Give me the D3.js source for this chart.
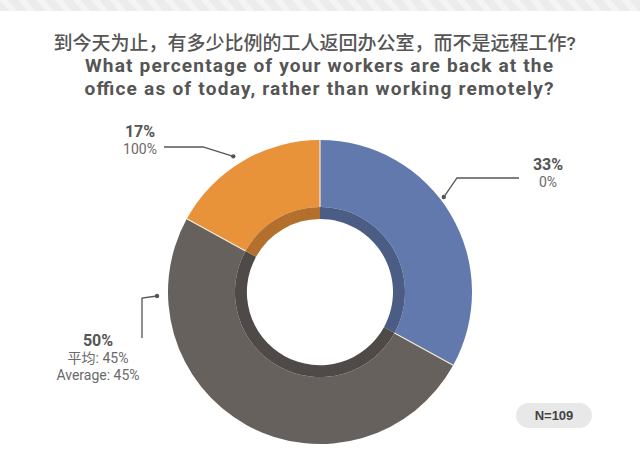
<!DOCTYPE html>
<html>
<head>
<meta charset="utf-8">
<script src="https://cdn.jsdelivr.net/npm/d3@7"></script>
<style>
  body { margin: 0; background: #fff; }
  svg { display: block; font-family: "Noto Sans", "Noto Sans CJK SC", sans-serif; }
</style>
</head>
<body>
<svg id="svg" width="640" height="450"></svg>
<script>
/* global d3 */

// data
const categories = ["0%", "45%", "100%"];
const shares = [33, 50, 17];
const subLabels = [["0%"], ["平均: 45%", "Average: 45%"], ["100%"]];
const colors = ["#6279ad", "#67615e", "#e8923a"];
const titleLines = [
  "到今天为止，有多少比例的工人返回办公室，而不是远程工作?",
  "What percentage of your workers are back at the",
  "office as of today, rather than working remotely?"
];
const sampleSize = "N=109";

const width = 640;
const height = 450;
const cx = 320;
const cy = 292;
const outerR = 152;
const bandR = 85;
const innerR = 73;

const svg = d3.select("#svg");

// striped header band
const defs = svg.append("defs");
const pat = defs
  .append("pattern")
  .attr("id", "stripes")
  .attr("width", 14)
  .attr("height", 14)
  .attr("patternUnits", "userSpaceOnUse")
  .attr("patternTransform", "rotate(-40)");
pat.append("rect").attr("width", 14).attr("height", 14).attr("fill", "#ececec");
pat.append("rect").attr("width", 6).attr("height", 14).attr("fill", "#f4f4f4");

svg.append("rect").attr("width", width).attr("height", 11).attr("fill", "url(#stripes)");

// title
const titleFont = 'Roboto, "Noto Sans CJK SC", sans-serif';
const title = svg
  .append("g")
  .selectAll("text")
  .data(titleLines)
  .join("text")
  .attr("x", (d, i) => (i === 0 ? 314.5 : 319))
  .attr("y", (d, i) => [49.5, 72.3, 95][i])
  .attr("text-anchor", "middle")
  .attr("fill", "#555")
  .attr("font-size", (d, i) => (i === 0 ? 19 : 19.1))
  .attr("font-weight", (d, i) => (i === 0 ? 500 : 700))
  .attr("font-family", titleFont)
  .text(d => d);

// stretch the two english lines to the widths seen in the picture
title
  .filter((d, i) => i > 0)
  .attr("textLength", (d, i) => [468, 469][i])
  .attr("lengthAdjust", "spacing");

// donut
const pie = d3.pie().sort(null).value(d => d)(shares);

const outerArc = d3.arc().innerRadius(bandR).outerRadius(outerR);
const shadowArc = d3.arc().innerRadius(innerR).outerRadius(bandR);

const chart = svg.append("g").attr("transform", `translate(${cx},${cy})`);

chart
  .selectAll("path.slice")
  .data(pie)
  .join("path")
  .attr("class", "slice")
  .attr("d", outerArc)
  .attr("fill", (d, i) => colors[i]);

chart
  .selectAll("path.shadow")
  .data(pie)
  .join("path")
  .attr("class", "shadow")
  .attr("d", shadowArc)
  .attr("fill", (d, i) => d3.color(colors[i]).darker(0.75));

// thin light separators between slices
chart
  .selectAll("line.sep")
  .data(pie)
  .join("line")
  .attr("class", "sep")
  .attr("x1", d => d3.pointRadial(d.startAngle, bandR)[0])
  .attr("y1", d => d3.pointRadial(d.startAngle, bandR)[1])
  .attr("x2", d => d3.pointRadial(d.startAngle, outerR)[0])
  .attr("y2", d => d3.pointRadial(d.startAngle, outerR)[1])
  .attr("stroke", "#f4ead8")
  .attr("stroke-width", 1.2);

// leader lines: dot angle / radius, elbow, end, and label anchor
const leaders = [
  { a: 52.5, r: 156, elbow: [457, 178], end: [519, 178], tx: 548, ty: 170 },
  { a: 268.6, r: 163, elbow: [142, 298], end: [142, 338], tx: 98, ty: 346 },
  { a: 327.4, r: 161, elbow: [203, 147], end: [164, 147], tx: 140, ty: 137 }
];

const labelFont = 'Roboto, "Noto Sans CJK SC", sans-serif';
const labels = svg.append("g");

pie.forEach((d, i) => {
  const L = leaders[i];
  const p = d3.pointRadial((L.a * Math.PI) / 180, L.r);
  const dot = [cx + p[0], cy + p[1]];
  labels
    .append("polyline")
    .attr("points", [dot, L.elbow, L.end].map(q => q.join(",")).join(" "))
    .attr("fill", "none")
    .attr("stroke", "#555")
    .attr("stroke-width", 1.3);
  labels
    .append("circle")
    .attr("cx", dot[0])
    .attr("cy", dot[1])
    .attr("r", 2.2)
    .attr("fill", "#555");

  labels
    .append("text")
    .attr("x", L.tx)
    .attr("y", L.ty)
    .attr("text-anchor", "middle")
    .attr("fill", "#555")
    .attr("font-size", 16)
    .attr("font-weight", 700)
    .attr("font-family", labelFont)
    .text(d.data + "%");

  labels
    .selectAll(null)
    .data(subLabels[i])
    .join("text")
    .attr("x", L.tx)
    .attr("y", (s, j) => L.ty + 17 + j * 17)
    .attr("text-anchor", "middle")
    .attr("fill", "#6a6a6a")
    .attr("font-size", 14)
    .attr("font-family", labelFont)
    .text(s => s);
});

// sample size pill
svg
  .append("rect")
  .attr("x", 516)
  .attr("y", 403)
  .attr("width", 76)
  .attr("height", 25)
  .attr("rx", 12.5)
  .attr("fill", "#e8e8e8");

svg
  .append("text")
  .attr("x", 554)
  .attr("y", 420)
  .attr("text-anchor", "middle")
  .attr("fill", "#444")
  .attr("font-size", 13)
  .attr("font-weight", 700)
  .attr("font-family", '"Liberation Sans", Arial, sans-serif')
  .text(sampleSize);
</script>
</body>
</html>
